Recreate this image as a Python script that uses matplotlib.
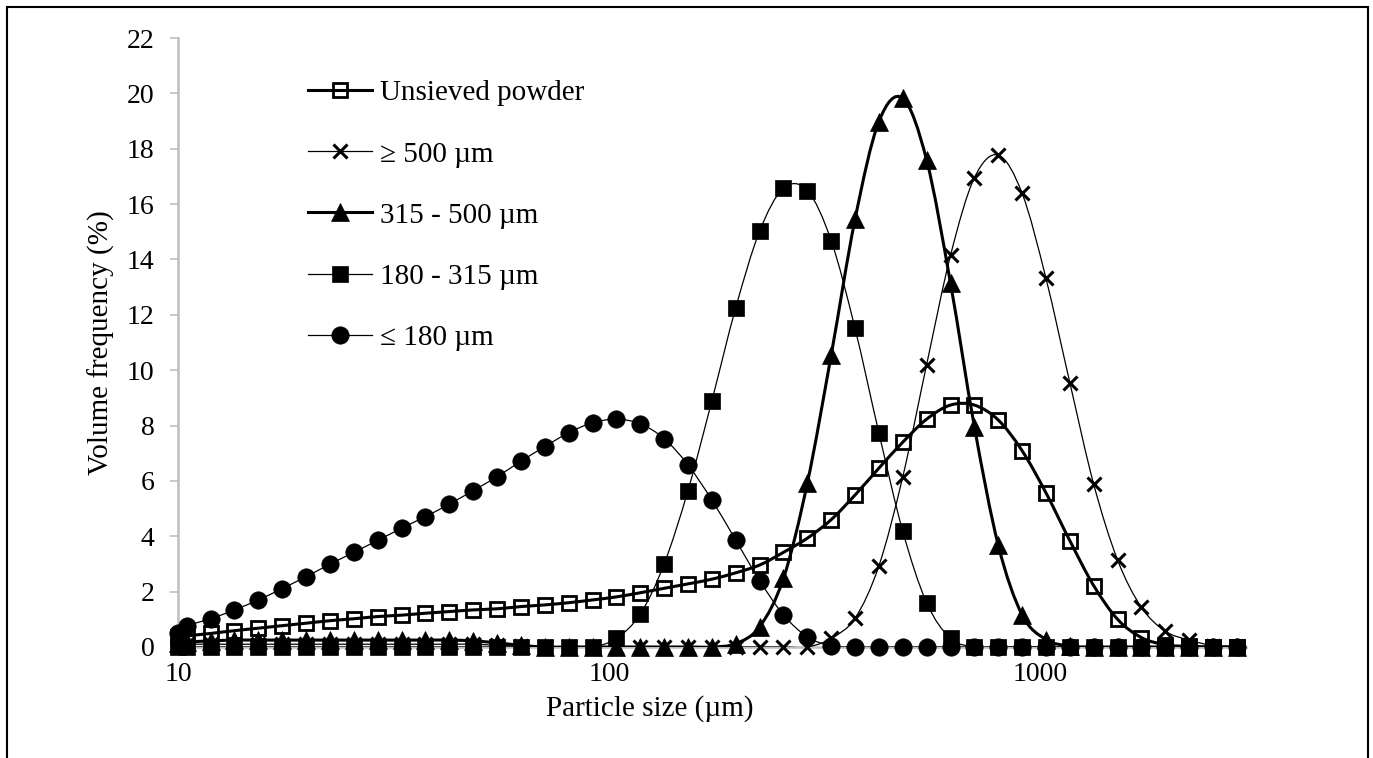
import numpy as np
import matplotlib
matplotlib.use('Agg')
import matplotlib.pyplot as plt
from matplotlib.path import Path
from matplotlib.patches import PathPatch, Rectangle
from matplotlib.lines import Line2D

plt.rcParams['font.family'] = ['Liberation Serif', 'DejaVu Serif']

# 粒径 (µm)
size_um = [10, 10.48, 11.90, 13.52, 15.36, 17.45, 19.82, 22.52, 25.58, 29.06, 33.01,
           37.50, 42.60, 48.40, 54.98, 62.46, 70.96, 80.61, 91.57, 104.0, 118.2,
           134.2, 152.5, 173.3, 196.8, 223.6, 254.0, 288.5, 327.8, 372.3, 422.9,
           480.5, 545.8, 620.1, 704.4, 800.2, 909.0, 1032.5, 1173, 1332, 1514,
           1720, 1954, 2219, 2521, 2864]

unsieved = [0.35, 0.40, 0.49, 0.59, 0.68, 0.77, 0.86, 0.95, 1.02, 1.10, 1.15,
            1.22, 1.28, 1.34, 1.38, 1.46, 1.52, 1.60, 1.70, 1.81, 1.96,
            2.12, 2.28, 2.45, 2.68, 2.96, 3.42, 3.93, 4.60, 5.49, 6.46,
            7.40, 8.23, 8.74, 8.74, 8.20, 7.09, 5.57, 3.84, 2.22, 1.00,
            0.34, 0.08, 0.02, 0, 0]

above_500 = [0.08, 0.10, 0.10, 0.10, 0.10, 0.10, 0.10, 0.10, 0.10, 0.10, 0.10,
             0.10, 0.10, 0.10, 0.06, 0.03, 0, 0, 0, 0, 0,
             0, 0, 0, 0, 0, 0, 0, 0.31, 1.04, 2.93,
             6.15, 10.2, 14.15, 16.95, 17.77, 16.39, 13.32, 9.55, 5.89, 3.14,
             1.43, 0.57, 0.25, 0.05, 0]

r315_500 = [0.15, 0.18, 0.22, 0.25, 0.25, 0.25, 0.25, 0.25, 0.25, 0.25, 0.25,
            0.25, 0.25, 0.22, 0.15, 0.06, 0, 0, 0, 0, 0,
            0, 0, 0, 0.12, 0.73, 2.48, 5.91, 10.55, 15.45, 18.98,
            19.82, 17.59, 13.14, 7.96, 3.68, 1.16, 0.27, 0.03, 0, 0,
            0, 0, 0, 0, 0]

r180_315 = [0, 0, 0, 0, 0, 0, 0, 0, 0, 0, 0,
            0, 0, 0, 0, 0, 0, 0, 0, 0.31, 1.19,
            2.99, 5.65, 8.90, 12.25, 15.02, 16.57, 16.49, 14.68, 11.51, 7.74,
            4.18, 1.60, 0.31, 0, 0, 0, 0, 0, 0, 0,
            0, 0, 0, 0, 0]

below_180 = [0.50, 0.76, 1.02, 1.34, 1.70, 2.11, 2.54, 2.99, 3.42, 3.85, 4.29,
             4.71, 5.16, 5.65, 6.15, 6.71, 7.24, 7.74, 8.10, 8.23, 8.06,
             7.53, 6.58, 5.31, 3.86, 2.40, 1.16, 0.37, 0.04, 0, 0,
             0, 0, 0, 0, 0, 0, 0, 0, 0, 0,
             0, 0, 0, 0, 0]


def smooth_path(xs, ys):
    """类似 Excel 平滑线: Catmull-Rom 转三次贝塞尔 (在 log x 空间)"""
    lx = np.log10(xs)
    y = np.asarray(ys, dtype=float)
    n = len(lx)
    verts = [(xs[0], y[0])]
    codes = [Path.MOVETO]
    for i in range(n - 1):
        i0 = max(i - 1, 0)
        i3 = min(i + 2, n - 1)
        c1 = (lx[i] + (lx[i + 1] - lx[i0]) / 6, y[i] + (y[i + 1] - y[i0]) / 6)
        c2 = (lx[i + 1] - (lx[i3] - lx[i]) / 6, y[i + 1] - (y[i3] - y[i]) / 6)
        verts += [(10 ** c1[0], c1[1]), (10 ** c2[0], c2[1]), (xs[i + 1], y[i + 1])]
        codes += [Path.CURVE4] * 3
    return Path(verts, codes)


W, H = 1373, 758
fig = plt.figure(figsize=(W / 100, H / 100), dpi=100)
ax = fig.add_axes([178 / W, (H - 647) / H, (1245.6 - 178) / W, 609 / H])

series = [
    # label, data, line width, marker, size, face, edge width, zorder
    ('Unsieved powder', unsieved, 2.2, 's', 10.5, 'none', 2.0, 3),
    ('\u2265 500 \u00b5m', above_500, 0.9, 'x', 10.5, 'k', 2.2, 4),
    ('315 - 500 \u00b5m', r315_500, 2.2, '^', 13, 'k', 0.5, 5),
    ('180 - 315 \u00b5m', r180_315, 0.9, 's', 11.5, 'k', 0.5, 7),
    ('\u2264 180 \u00b5m', below_180, 0.9, 'o', 12.5, 'k', 0.5, 6),
]

handles = []
for label, data, lw, mk, ms, mfc, mew, z in series:
    ax.add_patch(PathPatch(smooth_path(size_um, data), fill=False, edgecolor='k',
                           lw=lw, zorder=z, transform=ax.transData))
    ax.plot(size_um, data, linestyle='none', marker=mk, ms=ms, mfc=mfc,
            mec='k', mew=mew, zorder=z + 0.5, clip_on=False)
    handles.append(Line2D([], [], color='k', lw=lw, marker=mk, ms=ms, mfc=mfc,
                          mec='k', mew=mew))

ax.set_xscale('log')
ax.set_xlim(10, 3000)
ax.set_ylim(0, 22)
ax.set_yticks(np.arange(0, 23, 2))
ax.set_xticks([10, 100, 1000])
ax.set_xticklabels(['10', '100', '1000'])
ax.xaxis.set_minor_locator(matplotlib.ticker.NullLocator())

for s in ['top', 'right']:
    ax.spines[s].set_visible(False)
for s in ['left', 'bottom']:
    ax.spines[s].set_color('#BFBFBF')
    ax.spines[s].set_linewidth(1.8)
    ax.spines[s].set_zorder(2)

ax.tick_params(axis='y', colors='#BFBFBF', length=6, width=1.2, pad=11,
               labelsize=20, labelcolor='k')
ax.tick_params(axis='x', length=0, pad=11, labelsize=20, labelcolor='k')

ax.set_xlabel('Particle size (\u00b5m)', fontsize=21)
ax.xaxis.set_label_coords((650 - 178) / (1245.6 - 178), -(709 - 647) / 609)
ax.xaxis.label.set_va('center')
ax.set_ylabel('Volume frequency (%)', fontsize=21)
ax.yaxis.set_label_coords((115 - 178) / (1245.6 - 178), 0.5)

leg = ax.legend(handles, [s[0] for s in series], loc='upper left',
                bbox_to_anchor=(308 / W, (H - 80) / H), bbox_transform=fig.transFigure,
                frameon=False, fontsize=21, handlelength=2.2, handletextpad=0.28,
                labelspacing=1.19, borderpad=0, borderaxespad=0, numpoints=1)

# 外框
fig.add_artist(Rectangle((7 / W, -0.02), (1368 - 7) / W, (H - 7) / H + 0.02,
                         transform=fig.transFigure, fill=False, lw=1.5,
                         edgecolor='k', clip_on=False))

fig.savefig('out.png', dpi=100)
